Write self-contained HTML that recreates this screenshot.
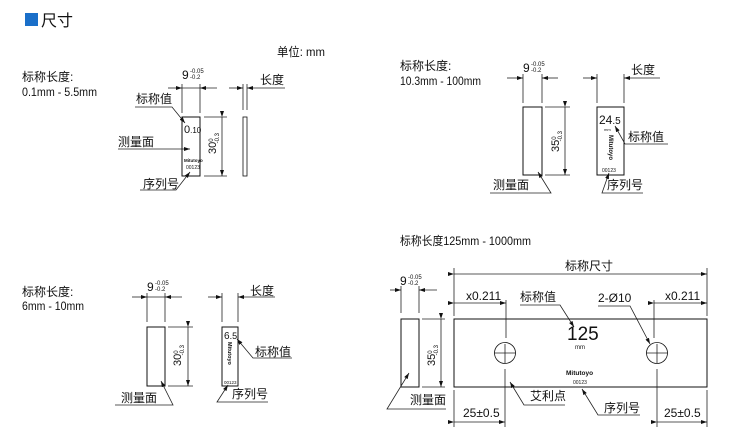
<!DOCTYPE html>
<html><head><meta charset="utf-8">
<style>
html,body{margin:0;padding:0;background:#fff;}
svg{display:block;font-family:"Liberation Sans","Noto Sans CJK SC",sans-serif;}
text{fill:#111;}
</style></head>
<body>
<svg width="750" height="444" viewBox="0 0 750 444" xmlns="http://www.w3.org/2000/svg">
<defs>
<marker id="a" markerWidth="6" markerHeight="4" refX="6" refY="2" orient="auto" markerUnits="userSpaceOnUse"><path d="M0,0 L6,2 L0,4 z" fill="#111"/></marker>
</defs>
<!-- header -->
<rect x="25" y="13" width="13" height="13" fill="#1a6fc9"/>
<text x="41" y="26" font-size="16">尺寸</text>

<g font-size="12">
<text x="277" y="56" textLength="48" lengthAdjust="spacingAndGlyphs">单位: mm</text>
<text x="22" y="81">标称长度:</text>
<text x="22" y="96" textLength="75" lengthAdjust="spacingAndGlyphs">0.1mm - 5.5mm</text>
<text x="400" y="70">标称长度:</text>
<text x="400" y="85" textLength="81" lengthAdjust="spacingAndGlyphs">10.3mm - 100mm</text>
<text x="22" y="296">标称长度:</text>
<text x="22" y="310" textLength="62" lengthAdjust="spacingAndGlyphs">6mm - 10mm</text>
<text x="400" y="245" textLength="131" lengthAdjust="spacingAndGlyphs">标称长度125mm - 1000mm</text>
</g>

<g stroke="#222" stroke-width="0.8" fill="none">
<!-- P1 -->
<line x1="182" y1="84" x2="182" y2="113"/><line x1="200" y1="84" x2="200" y2="113"/>
<line x1="168" y1="88" x2="182" y2="88" marker-end="url(#a)"/><line x1="217" y1="88" x2="200" y2="88" marker-end="url(#a)"/>
<line x1="182" y1="88" x2="200" y2="88"/>
<rect x="182" y="117" width="18" height="59" stroke="#111" stroke-width="1"/>
<line x1="204" y1="117" x2="227" y2="117"/><line x1="204" y1="176" x2="227" y2="176"/>
<line x1="222" y1="117" x2="222" y2="176" marker-start="url(#a)" marker-end="url(#a)"/>
<rect x="243" y="117" width="4" height="59" stroke="#111"/>
<line x1="243" y1="84" x2="243" y2="110"/><line x1="247" y1="84" x2="247" y2="110"/>
<line x1="229" y1="88" x2="243" y2="88" marker-end="url(#a)"/><line x1="285" y1="88" x2="247" y2="88" marker-end="url(#a)"/>
<polyline points="135,107 172,107 185,123" marker-end="url(#a)"/>
<line x1="118" y1="149" x2="190" y2="149" marker-end="url(#a)"/>
<polyline points="140,190 176,190 190,172" marker-end="url(#a)"/>
<!-- P2 -->
<line x1="523" y1="74" x2="523" y2="103"/><line x1="542" y1="74" x2="542" y2="103"/>
<line x1="507" y1="78" x2="523" y2="78" marker-end="url(#a)"/><line x1="558" y1="78" x2="542" y2="78" marker-end="url(#a)"/>
<rect x="523" y="107" width="19" height="68" stroke="#111" stroke-width="1"/>
<line x1="545" y1="107" x2="570" y2="107"/><line x1="545" y1="175" x2="570" y2="175"/>
<line x1="565" y1="107" x2="565" y2="175" marker-start="url(#a)" marker-end="url(#a)"/>
<rect x="597" y="107" width="27" height="68" stroke="#111" stroke-width="1"/>
<line x1="597" y1="74" x2="597" y2="103"/><line x1="624" y1="74" x2="624" y2="103"/>
<line x1="583" y1="78" x2="597" y2="78" marker-end="url(#a)"/><line x1="660" y1="78" x2="624" y2="78" marker-end="url(#a)"/>
<polyline points="668,144 625,144 615,126" marker-end="url(#a)"/>
<polyline points="490,193 551,193 538,172" marker-end="url(#a)"/>
<polyline points="643,193 602,193 609,173" marker-end="url(#a)"/>
<!-- P3 -->
<line x1="147" y1="293" x2="147" y2="322"/><line x1="165" y1="293" x2="165" y2="322"/>
<line x1="132" y1="297" x2="147" y2="297" marker-end="url(#a)"/><line x1="182" y1="297" x2="165" y2="297" marker-end="url(#a)"/>
<line x1="147" y1="297" x2="165" y2="297"/>
<rect x="147" y="327" width="18" height="59" stroke="#111" stroke-width="1"/>
<line x1="168" y1="327" x2="193" y2="327"/><line x1="168" y1="386" x2="193" y2="386"/>
<line x1="188" y1="327" x2="188" y2="386" marker-start="url(#a)" marker-end="url(#a)"/>
<rect x="222" y="327" width="16" height="59" stroke="#111" stroke-width="1"/>
<line x1="222" y1="293" x2="222" y2="322"/><line x1="238" y1="293" x2="238" y2="322"/>
<line x1="208" y1="297" x2="222" y2="297" marker-end="url(#a)"/><line x1="275" y1="297" x2="238" y2="297" marker-end="url(#a)"/>
<polyline points="292,358 253,358 237,339" marker-end="url(#a)"/>
<polyline points="115,405 173,405 161,381" marker-end="url(#a)"/>
<polyline points="268,402 217,402 228,385" marker-end="url(#a)"/>
<!-- P4 -->
<line x1="401" y1="286" x2="401" y2="313"/><line x1="419" y1="286" x2="419" y2="313"/>
<line x1="390" y1="290" x2="401" y2="290" marker-end="url(#a)"/><line x1="437" y1="290" x2="419" y2="290" marker-end="url(#a)"/>
<rect x="401" y="319" width="18" height="68" stroke="#111" stroke-width="1"/>
<line x1="422" y1="319" x2="445" y2="319"/><line x1="422" y1="387" x2="445" y2="387"/>
<line x1="441" y1="319" x2="441" y2="387" marker-start="url(#a)" marker-end="url(#a)"/>
<polyline points="446,409 387,409 409,373" marker-end="url(#a)"/>
<rect x="454" y="319" width="253" height="68" stroke="#111" stroke-width="1"/>
<line x1="454" y1="268" x2="454" y2="316"/><line x1="707" y1="268" x2="707" y2="316"/>
<line x1="454" y1="274" x2="707" y2="274" marker-start="url(#a)" marker-end="url(#a)"/>
<line x1="454" y1="303" x2="506" y2="303" marker-start="url(#a)" marker-end="url(#a)"/>
<line x1="654" y1="303" x2="707" y2="303" marker-start="url(#a)" marker-end="url(#a)"/>
<line x1="454" y1="390" x2="454" y2="427"/><line x1="707" y1="390" x2="707" y2="427"/>
<line x1="454" y1="422" x2="505" y2="422" marker-start="url(#a)" marker-end="url(#a)"/>
<line x1="657" y1="422" x2="707" y2="422" marker-start="url(#a)" marker-end="url(#a)"/>
<line x1="506" y1="300" x2="506" y2="338"/><line x1="505" y1="344" x2="505" y2="363"/><line x1="505" y1="369" x2="505" y2="427"/>
<line x1="654" y1="300" x2="654" y2="338"/><line x1="657" y1="344" x2="657" y2="363"/><line x1="657" y1="369" x2="657" y2="427"/>
<circle cx="505" cy="353" r="10.5" stroke="#111"/><line x1="494" y1="353" x2="516" y2="353"/>
<circle cx="657" cy="353" r="10.5" stroke="#111"/><line x1="646" y1="353" x2="668" y2="353"/>
<polyline points="520,305 560,305 574,327" marker-end="url(#a)"/>
<polyline points="598,306 630,306 650,344" marker-end="url(#a)"/>
<polyline points="565,405 524,405 510,382" marker-end="url(#a)"/>
<polyline points="640,415 598,415 582,389" marker-end="url(#a)"/>
</g>

<g font-size="12">
<text x="182" y="79">9</text><text x="190" y="73" font-size="6">-0.05</text><text x="190" y="79" font-size="6">-0.2</text>
<text x="260" y="84">长度</text>
<text x="136" y="103">标称值</text>
<text x="184" y="133" font-size="11">0<tspan font-size="8">.10</tspan></text>
<text x="118" y="146">测量面</text>
<text x="184" y="162" font-size="4.5" font-weight="bold">Mitutoyo</text>
<text x="186" y="169" font-size="5">00123</text>
<text x="143" y="188">序列号</text>
<text transform="translate(216,154) rotate(-90)" font-size="11">30<tspan font-size="6" dy="-3">0</tspan><tspan font-size="6" dx="-5" dy="6">-0.3</tspan></text>
<text x="523" y="72">9</text><text x="531" y="66" font-size="6">-0.05</text><text x="531" y="72" font-size="6">-0.2</text>
<text x="631" y="74">长度</text>
<text x="599" y="124" font-size="12">24<tspan font-size="10">.5</tspan></text>
<text x="604" y="131" font-size="4">mm</text>
<text transform="translate(609,135) rotate(90)" font-size="6" font-weight="bold">Mitutoyo</text>
<text x="602" y="172" font-size="5">00123</text>
<text x="628" y="141">标称值</text>
<text transform="translate(559,152) rotate(-90)" font-size="11">35<tspan font-size="6" dy="-3">0</tspan><tspan font-size="6" dx="-5" dy="6">-0.3</tspan></text>
<text x="493" y="189">测量面</text>
<text x="607" y="189">序列号</text>
<text x="147" y="291">9</text><text x="155" y="285" font-size="6">-0.05</text><text x="155" y="291" font-size="6">-0.2</text>
<text x="250" y="295">长度</text>
<text x="224" y="339" font-size="10">6<tspan font-size="9">.5</tspan></text>
<text transform="translate(228,342) rotate(90)" font-size="5.5" font-weight="bold">Mitutoyo</text>
<text x="224" y="384" font-size="4.5">00123</text>
<text x="255" y="356">标称值</text>
<text transform="translate(181,366) rotate(-90)" font-size="11">30<tspan font-size="6" dy="-3">0</tspan><tspan font-size="6" dx="-5" dy="6">-0.3</tspan></text>
<text x="121" y="402">测量面</text>
<text x="232" y="398">序列号</text>
<text x="400" y="285">9</text><text x="408" y="279" font-size="6">-0.05</text><text x="408" y="285" font-size="6">-0.2</text>
<text transform="translate(435,366) rotate(-90)" font-size="11">35<tspan font-size="6" dy="-3">0</tspan><tspan font-size="6" dx="-5" dy="6">-0.3</tspan></text>
<text x="410" y="404">测量面</text>
<text x="565" y="270">标称尺寸</text>
<text x="466" y="300">x0.211</text>
<text x="665" y="300">x0.211</text>
<text x="520" y="301">标称值</text>
<text x="598" y="302">2-Ø10</text>
<text x="567" y="340" font-size="19">125</text>
<text x="575" y="349" font-size="6">mm</text>
<text x="566" y="375" font-size="6.5" font-weight="bold">Mitutoyo</text>
<text x="573" y="384" font-size="5">00123</text>
<text x="530" y="400">艾利点</text>
<text x="604" y="412">序列号</text>
<text x="463" y="417">25±0.5</text>
<text x="664" y="417">25±0.5</text>
</g>
</svg>
</body></html>
